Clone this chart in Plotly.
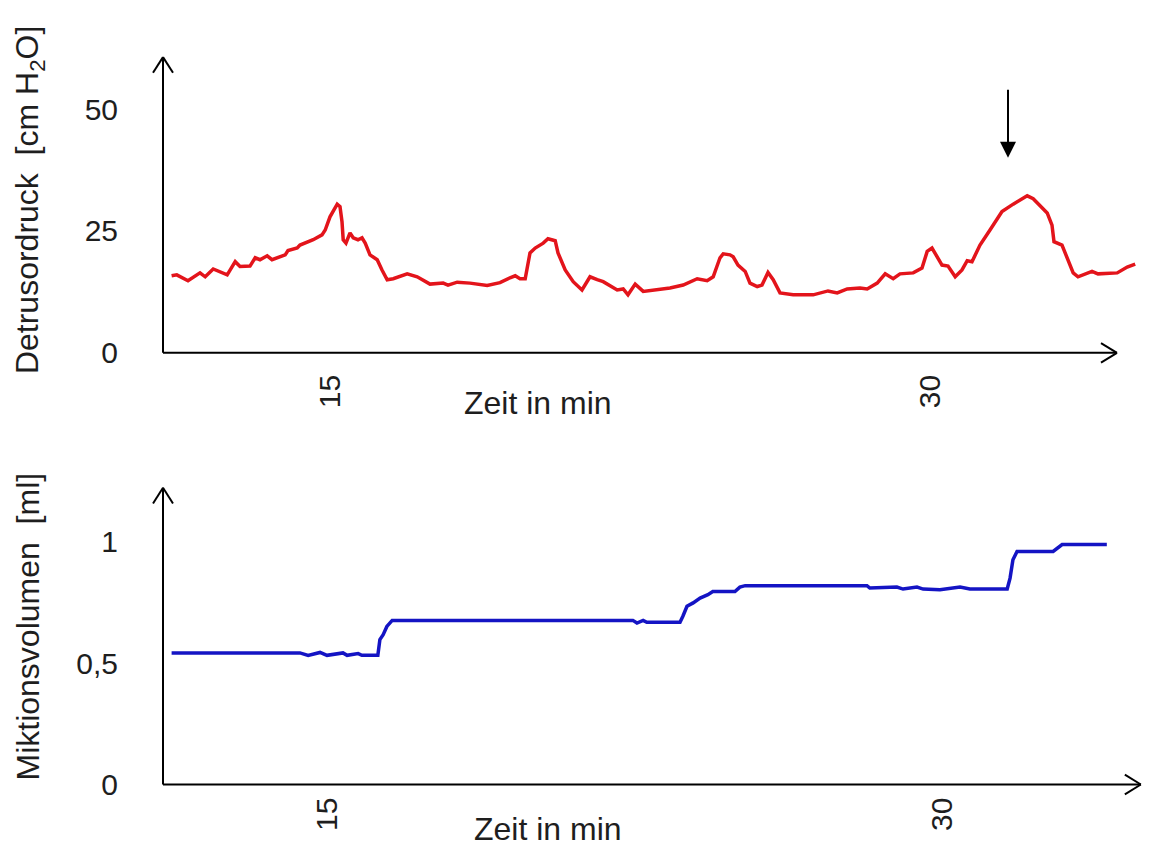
import plotly.graph_objects as go

# ---------------- data ----------------
# Top panel: detrusor pressure (cm H2O) over time (min)
time_p = [11.04, 11.17, 11.45, 11.75, 11.88, 12.08, 12.43, 12.63, 12.75, 13.00,
          13.13, 13.25, 13.43, 13.55, 13.88, 13.95, 14.18, 14.25, 14.58, 14.80,
          14.88, 15.00, 15.18, 15.25, 15.30, 15.33, 15.40, 15.50, 15.58, 15.70,
          15.80, 15.88, 16.00, 16.18, 16.30, 16.43, 16.58, 16.93, 17.18, 17.50,
          17.83, 17.95, 18.18, 18.50, 18.93, 19.25, 19.50, 19.63, 19.75, 19.88,
          20.00, 20.13, 20.33, 20.45, 20.63, 20.70, 20.88, 21.08, 21.30, 21.50,
          21.68, 21.83, 22.18, 22.33, 22.45, 22.63, 22.83, 23.18, 23.50, 23.83,
          24.18, 24.43, 24.58, 24.75, 24.83, 25.00, 25.08, 25.20, 25.38, 25.50,
          25.68, 25.80, 25.95, 26.08, 26.25, 26.58, 27.08, 27.45, 27.68, 27.93,
          28.25, 28.43, 28.68, 28.88, 29.08, 29.25, 29.58, 29.80, 29.93, 30.05,
          30.18, 30.30, 30.45, 30.63, 30.80, 30.93, 31.05, 31.25, 31.50, 31.80,
          32.08, 32.43, 32.58, 32.80, 32.93, 33.05, 33.10, 33.30, 33.45, 33.58,
          33.70, 34.05, 34.20, 34.68, 34.93, 35.13]
pressure = [15.8, 16.0, 14.8, 16.4, 15.6, 17.2, 16.0, 18.7, 17.7, 17.8,
            19.5, 19.1, 19.9, 19.1, 20.1, 21.0, 21.5, 22.1, 23.2, 24.2,
            25.2, 27.9, 30.5, 30.0, 26.9, 23.2, 22.5, 24.6, 23.6, 23.2,
            23.6, 22.5, 20.1, 19.1, 17.0, 15.0, 15.2, 16.2, 15.6, 14.1,
            14.3, 13.9, 14.5, 14.3, 13.8, 14.4, 15.4, 15.8, 15.2, 15.2,
            20.5, 21.5, 22.5, 23.4, 23.0, 20.5, 17.0, 14.6, 12.9, 15.6,
            15.0, 14.6, 12.9, 13.1, 11.9, 14.1, 12.6, 12.9, 13.3, 13.9,
            15.2, 14.8, 15.6, 19.5, 20.3, 20.1, 19.7, 18.0, 16.7, 14.3,
            13.6, 13.9, 16.5, 15.0, 12.3, 11.9, 11.9, 12.7, 12.3, 13.1,
            13.3, 13.1, 14.3, 16.2, 15.2, 16.2, 16.4, 17.4, 20.8, 21.5,
            19.5, 18.0, 17.8, 15.6, 17.0, 18.9, 18.7, 22.1, 25.2, 29.0,
            30.5, 32.2, 31.6, 29.7, 28.7, 26.2, 22.8, 22.1, 19.1, 16.4,
            15.6, 16.7, 16.2, 16.4, 17.6, 18.2]

# Bottom panel: voided volume (ml) over time (min)
time_v = [11.21, 14.34, 14.54, 14.83, 15.00, 15.39, 15.49, 15.76, 15.85, 16.24,
          16.29, 16.37, 16.46, 16.59, 19.71, 22.46, 22.56, 22.71, 22.80, 23.12,
          23.61, 23.68, 23.78, 23.93, 24.10, 24.29, 24.41, 24.95, 25.07, 25.20,
          28.17, 28.24, 28.90, 29.05, 29.39, 29.54, 29.95, 30.44, 30.68, 31.59,
          31.66, 31.73, 31.83, 32.71, 32.93, 34.02]
volume = [0.542, 0.542, 0.532, 0.544, 0.532, 0.542, 0.532, 0.539, 0.532, 0.532,
          0.597, 0.617, 0.651, 0.676, 0.676, 0.676, 0.665, 0.676, 0.668, 0.668,
          0.668, 0.693, 0.734, 0.748, 0.768, 0.782, 0.795, 0.795, 0.813, 0.819,
          0.819, 0.809, 0.813, 0.805, 0.813, 0.805, 0.802, 0.813, 0.805, 0.805,
          0.850, 0.926, 0.960, 0.960, 0.988, 0.988]

p_ticks = [0, 25, 50]
p_ticktext = ["0", "25", "50"]
v_ticks = [0, 0.5, 1]
v_ticktext = ["0", "0,5", "1"]
t_ticks = [15, 30]
t_ticktext = ["15", "30"]

top_title = "Detrusordruck\u00a0 [cm H<sub>2</sub>O]"
bottom_title = "Miktionsvolumen\u00a0 [ml]"
x_title = "Zeit in min"

# ---------------- figure ----------------
W, H = 1134, 859
FONT = "Liberation Sans, Arial, sans-serif"
TXT = "#1e1e1e"

top_x_dom = [155 / W, 1132 / W]
top_y_dom = [1 - 351.8 / H, 1 - 43.0 / H]
bot_x_dom = [155 / W, 1.0]
bot_y_dom = [1 - 792.2 / H, 1 - 481.3 / H]

top_x_range = [10.825, 35.25]
top_y_range = [0, 62.09]
bot_x_range = [11.0, 34.878]
bot_y_range = [0, 1.2551]
top_x_tip, top_y_tip = 34.675, 60.66
bot_x_tip, bot_y_tip = 34.85, 1.222


def px(v, dom, rng):
    return dom[0] + (v - rng[0]) / (rng[1] - rng[0]) * (dom[1] - dom[0])


fig = go.Figure()
fig.add_trace(go.Scatter(x=time_p, y=pressure, mode="lines",
                         line=dict(color="#e3141b", width=3.5),
                         xaxis="x", yaxis="y", showlegend=False))
fig.add_trace(go.Scatter(x=time_v, y=volume, mode="lines",
                         line=dict(color="#1414c4", width=3.5),
                         xaxis="x2", yaxis="y2", showlegend=False))

tickfont = dict(family=FONT, size=30, color=TXT)
fig.update_layout(
    width=W, height=H,
    margin=dict(l=0, r=0, t=0, b=0),
    paper_bgcolor="white", plot_bgcolor="white",
    xaxis=dict(domain=top_x_dom, range=top_x_range, anchor="y",
               showgrid=False, zeroline=False, showline=False,
               tickvals=t_ticks, ticktext=t_ticktext, tickangle=-90,
               ticks="", ticklabelstandoff=15, tickfont=tickfont),
    yaxis=dict(domain=top_y_dom, range=top_y_range, anchor="x",
               showgrid=False, zeroline=False, showline=False,
               tickvals=p_ticks, ticktext=p_ticktext,
               ticks="", ticklabelstandoff=44, tickfont=tickfont),
    xaxis2=dict(domain=bot_x_dom, range=bot_x_range, anchor="y2",
                showgrid=False, zeroline=False, showline=False,
                tickvals=t_ticks, ticktext=t_ticktext, tickangle=-90,
                ticks="", ticklabelstandoff=6, tickfont=tickfont),
    yaxis2=dict(domain=bot_y_dom, range=bot_y_range, anchor="x2",
                showgrid=False, zeroline=False, showline=False,
                tickvals=v_ticks, ticktext=v_ticktext,
                ticks="", ticklabelstandoff=44, tickfont=tickfont),
)


# Axis lines with open arrowheads (paper coords derived from the axis scales)
def axis_arrows(xdom, xrng, ydom, yrng, xtip, ytip):
    line = dict(color="black", width=2)
    ox, oy = xdom[0], px(0, ydom, yrng)
    tx, ty = px(xtip, xdom, xrng), px(ytip, ydom, yrng)
    hw_x, hw_y = 10 / W, 10 / H      # half width of arrowhead
    dp_x, dp_y = 16 / W, 16 / H      # depth of arrowhead
    segs = [
        (ox, oy, ox, ty), (ox, oy, tx, oy),
        (ox, ty, ox - hw_x, ty - dp_y), (ox, ty, ox + hw_x, ty - dp_y),
        (tx, oy, tx - dp_x, oy + hw_y), (tx, oy, tx - dp_x, oy - hw_y),
    ]
    return [dict(type="line", xref="paper", yref="paper",
                 x0=a, y0=b, x1=c, y1=d, line=line) for a, b, c, d in segs]


shapes = axis_arrows(top_x_dom, top_x_range, top_y_dom, top_y_range, top_x_tip, top_y_tip)
shapes += axis_arrows(bot_x_dom, bot_x_range, bot_y_dom, bot_y_range, bot_x_tip, bot_y_tip)
fig.update_layout(shapes=shapes)

titlefont = dict(family=FONT, size=32, color=TXT)
annotations = [
    dict(text=top_title, xref="paper", yref="paper", x=21 / W, y=1 - 196 / H,
         textangle=-90, showarrow=False, font=titlefont,
         xanchor="center", yanchor="middle"),
    dict(text=bottom_title, xref="paper", yref="paper", x=20 / W, y=1 - 631 / H,
         textangle=-90, showarrow=False, font=titlefont,
         xanchor="center", yanchor="middle"),
    dict(text=x_title, xref="x", yref="paper", x=20.2, y=1 - 403 / H,
         showarrow=False, font=titlefont, xanchor="center", yanchor="middle"),
    dict(text=x_title, xref="x2", yref="paper", x=20.39, y=1 - 838 / H,
         showarrow=False, font=titlefont, xanchor="center", yanchor="middle"),
    # marker arrow pointing at the final contraction peak
    dict(text="", xref="x", yref="y", x=31.95, y=40.0, ax=31.95, ay=54.3,
         axref="x", ayref="y", showarrow=True, arrowhead=2, arrowsize=1.6,
         arrowwidth=2, arrowcolor="black"),
]
fig.update_layout(annotations=annotations)

fig.write_html("out.html")
